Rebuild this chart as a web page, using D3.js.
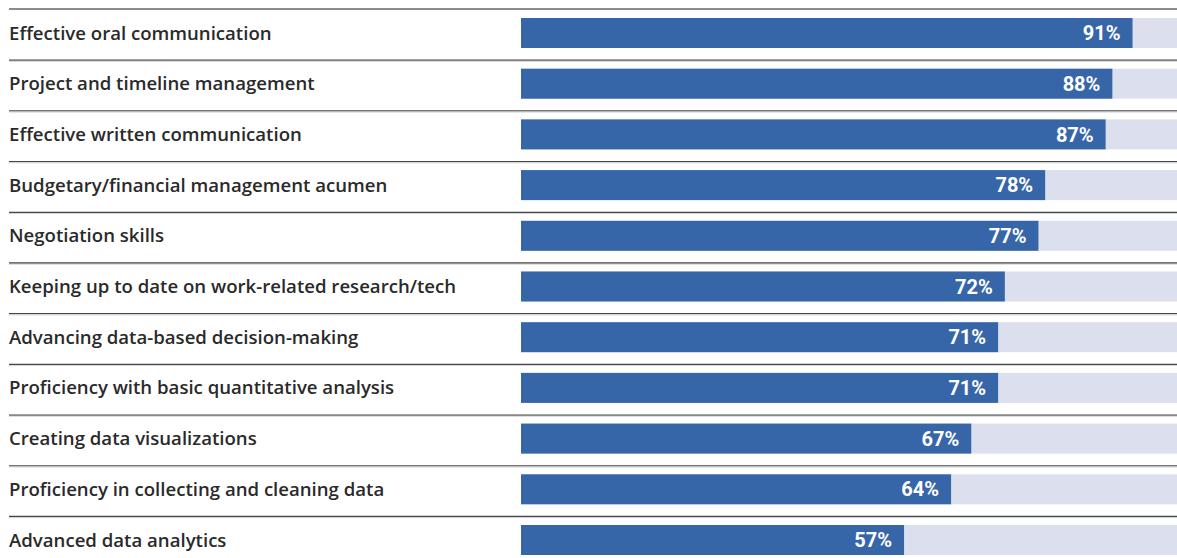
<!DOCTYPE html>
<html>
<head>
<meta charset="utf-8">
<script src="https://cdn.jsdelivr.net/npm/d3@7"></script>
<style>
  html, body { margin: 0; padding: 0; background: #ffffff; }
  svg { display: block; }
</style>
</head>
<body>
<svg id="chart" width="1177" height="558"></svg>
<script>
const categories = [
  "Effective oral communication",
  "Project and timeline management",
  "Effective written communication",
  "Budgetary/financial management acumen",
  "Negotiation skills",
  "Keeping up to date on work-related research/tech",
  "Advancing data-based decision-making",
  "Proficiency with basic quantitative analysis",
  "Creating data visualizations",
  "Proficiency in collecting and cleaning data",
  "Advanced data analytics"
];
const values = [91, 88, 87, 78, 77, 72, 71, 71, 67, 64, 57];
const valueLabels = ["91%", "88%", "87%", "78%", "77%", "72%", "71%", "71%", "67%", "64%", "57%"];

const W = 1177, H = 558;
const svg = d3.select("#chart");

const x = d3.scaleLinear().domain([0, 100]).range([521, 1193]);
const y = d3.scaleBand().domain(categories).range([9, 9 + categories.length * 50.7]).padding(0);

const rows = svg.selectAll("g.row")
  .data(categories.map((c, i) => ({ c, v: values[i], lab: valueLabels[i], i })))
  .join("g")
  .attr("class", "row")
  .attr("transform", d => `translate(0,${y(d.c)})`);

// separator lines
rows.append("line")
  .attr("x1", 9).attr("x2", W)
  .attr("y1", d => d.i === 0 ? 0 : 0.5).attr("y2", d => d.i === 0 ? 0 : 0.5)
  .attr("stroke", d => d.i === 0 ? "#8c8c8c" : "#474747")
  .attr("stroke-width", d => d.i === 0 ? 2 : 1.3);
rows.filter(d => d.i > 0).append("line")
  .attr("x1", 9).attr("x2", W)
  .attr("y1", 1.7).attr("y2", 1.7)
  .attr("stroke", "#d6d6d6")
  .attr("stroke-width", 1);

// background bars
rows.append("rect")
  .attr("x", x(0))
  .attr("y", 9)
  .attr("width", W - x(0))
  .attr("height", 30)
  .attr("fill", "#dcdfed");

// value bars
rows.append("rect")
  .attr("x", x(0))
  .attr("y", 9)
  .attr("width", d => x(d.v) - x(0))
  .attr("height", 30)
  .attr("fill", "#3766a8");

// category labels
rows.append("text")
  .attr("x", 9)
  .attr("y", 24)
  .attr("dy", "0.35em")
  .attr("font-family", "'Open Sans', Roboto, sans-serif")
  .attr("font-size", 18.6)
  .attr("font-weight", 600)
  .attr("fill", "#2a2a2a")
  .text(d => d.c);

// value labels
rows.append("text")
  .attr("x", d => x(d.v) - 12)
  .attr("y", 24)
  .attr("dy", "0.36em")
  .attr("text-anchor", "end")
  .attr("font-family", "Roboto, 'Noto Sans', sans-serif")
  .attr("font-size", 20)
  .attr("font-weight", 700)
  .attr("fill", "#ffffff")
  .text(d => d.lab);
</script>
</body>
</html>
